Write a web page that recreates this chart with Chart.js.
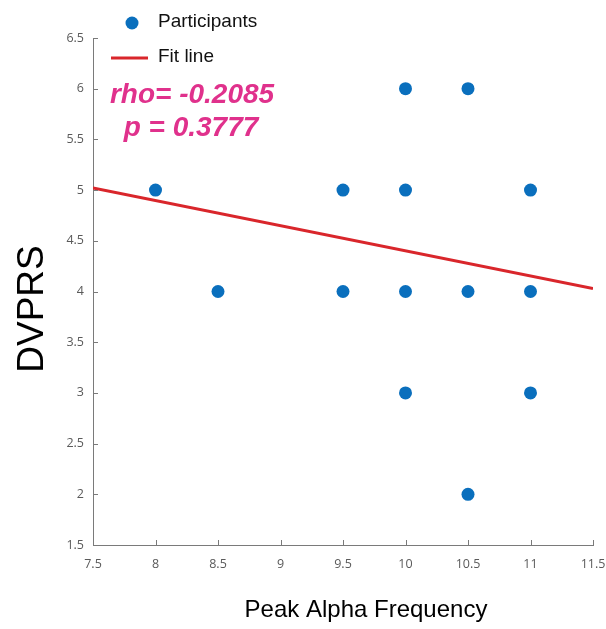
<!DOCTYPE html>
<html>
<head>
<meta charset="utf-8">
<script src="https://cdn.jsdelivr.net/npm/chart.js@4"></script>
<style>
  html, body { margin: 0; padding: 0; background: #fff; }
  #wrap { width: 606px; height: 629px; position: relative; }
</style>
</head>
<body>
<div id="wrap"><canvas id="c" width="606" height="629"></canvas></div>
<script>
// Data
const peakAlpha = [8, 8.5, 9.5, 9.5, 10, 10, 10, 10, 10.5, 10.5, 10.5, 11, 11, 11];
const dvprs     = [5, 4,   5,   4,   6,  5,  4,  3,  6,    4,    2,    5,  4,  3];
const fitX = [7.5, 11.5];
const fitY = [5.02, 4.03];
const xTicks = [7.5, 8, 8.5, 9, 9.5, 10, 10.5, 11, 11.5];
const yTicks = [1.5, 2, 2.5, 3, 3.5, 4, 4.5, 5, 5.5, 6, 6.5];
const seriesNames = ['Participants', 'Fit line'];
const annotation = ['rho= -0.2085', 'p = 0.3777'];
const xTitle = 'Peak Alpha Frequency';
const yTitle = 'DVPRS';

const BLUE = '#0a6fbd';
const RED = '#d9262b';
const MAGENTA = '#e0318c';
const AXIS = '#7a7a7a';
const TICKTXT = '#5a5a5a';

const decor = {
  id: 'decor',
  afterDraw(chart) {
    const ctx = chart.ctx;
    const xs = chart.scales.x, ys = chart.scales.y;
    const area = chart.chartArea;
    ctx.save();
    // inward tick marks
    ctx.strokeStyle = AXIS;
    ctx.lineWidth = 1;
    ctx.beginPath();
    xTicks.forEach(v => {
      const px = Math.round(xs.getPixelForValue(v)) + 0.5;
      ctx.moveTo(px, area.bottom);
      ctx.lineTo(px, area.bottom - 5);
    });
    yTicks.forEach(v => {
      const py = Math.round(ys.getPixelForValue(v)) + 0.5;
      ctx.moveTo(area.left, py);
      ctx.lineTo(area.left + 5, py);
    });
    ctx.stroke();

    // axis titles
    ctx.fillStyle = '#000';
    ctx.font = '24px "Liberation Sans", Arial, sans-serif';
    ctx.textAlign = 'center';
    ctx.textBaseline = 'alphabetic';
    ctx.fillText(xTitle, 366, 617);
    ctx.save();
    ctx.translate(43, 309);
    ctx.rotate(-Math.PI / 2);
    ctx.font = '37px "Liberation Sans", Arial, sans-serif';
    ctx.textAlign = 'center';
    ctx.fillText(yTitle, 0, 0);
    ctx.restore();

    // legend
    ctx.fillStyle = '#fff';
    ctx.fillRect(100, 6, 140, 66);
    ctx.fillStyle = BLUE;
    ctx.beginPath();
    ctx.arc(132, 23, 6.5, 0, Math.PI * 2);
    ctx.fill();
    ctx.strokeStyle = RED;
    ctx.lineWidth = 3;
    ctx.beginPath();
    ctx.moveTo(111, 58);
    ctx.lineTo(148, 58);
    ctx.stroke();
    ctx.fillStyle = '#111';
    ctx.font = '19px "Liberation Sans", Arial, sans-serif';
    ctx.textAlign = 'left';
    ctx.textBaseline = 'middle';
    ctx.fillText(seriesNames[0], 158, 22);
    ctx.fillText(seriesNames[1], 158, 57);

    // annotation
    ctx.fillStyle = MAGENTA;
    ctx.font = 'italic bold 28px "Liberation Sans", Arial, sans-serif';
    ctx.textAlign = 'center';
    ctx.textBaseline = 'alphabetic';
    ctx.fillText(annotation[0], 192, 103);
    ctx.fillText(annotation[1], 191, 136);
    ctx.restore();
  }
};

new Chart(document.getElementById('c'), {
  type: 'scatter',
  data: {
    datasets: [
      {
        label: seriesNames[1],
        data: fitX.map((x, i) => ({ x: x, y: fitY[i] })),
        showLine: true,
        borderColor: RED,
        borderWidth: 3,
        pointRadius: 0,
        fill: false,
        order: 2
      },
      {
        label: seriesNames[0],
        data: peakAlpha.map((x, i) => ({ x: x, y: dvprs[i] })),
        backgroundColor: BLUE,
        borderColor: BLUE,
        pointRadius: 6.5,
        pointBorderWidth: 0,
        order: 1
      }
    ]
  },
  options: {
    responsive: false,
    animation: false,
    events: [],
    layout: { padding: { left: 0, right: 13, top: 38, bottom: 0 } },
    plugins: { legend: { display: false }, tooltip: { enabled: false } },
    scales: {
      x: {
        type: 'linear',
        min: 7.5, max: 11.5,
        afterFit: s => { s.height = 84; s.paddingRight = 0; },
        afterBuildTicks: s => { s.ticks = xTicks.map(v => ({ value: v })); },
        grid: { display: false, drawTicks: false },
        border: { display: true, color: AXIS, width: 1 },
        ticks: {
          padding: 12,
          color: TICKTXT,
          font: { family: '"Open Sans", "DejaVu Sans", sans-serif', size: 12.5 },
          maxRotation: 0,
          callback: v => String(v)
        }
      },
      y: {
        type: 'linear',
        min: 1.5, max: 6.5,
        afterFit: s => { s.width = 93; },
        afterBuildTicks: s => { s.ticks = yTicks.map(v => ({ value: v })); },
        grid: { display: false, drawTicks: false },
        border: { display: true, color: AXIS, width: 1 },
        ticks: {
          padding: 9,
          color: TICKTXT,
          font: { family: '"Open Sans", "DejaVu Sans", sans-serif', size: 12.5 },
          callback: v => String(v)
        }
      }
    }
  },
  plugins: [decor]
});
</script>
</body>
</html>
